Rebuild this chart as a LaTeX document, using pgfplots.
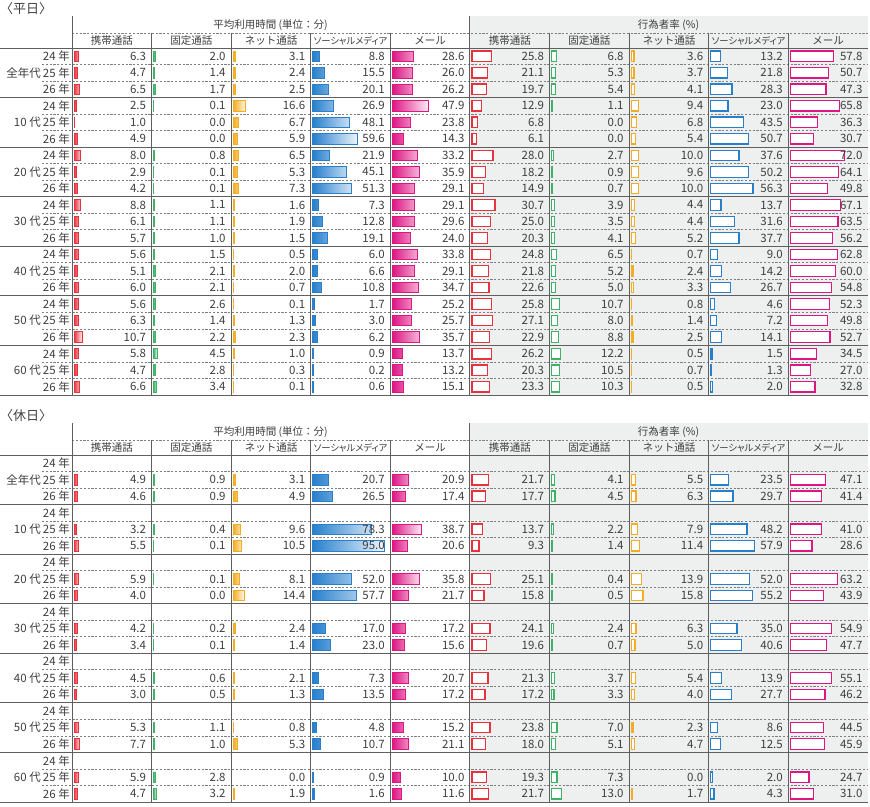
\documentclass[border=0pt]{standalone}
\usepackage{pgfplots}
\pgfplotsset{compat=1.18}
\usepackage{pgfplotstable}
\usepackage{fontspec}
\setmainfont{Noto Sans CJK JP}
\newfontfamily\jpp{Noto Sans CJK JP}[RawFeature=+palt]
\definecolor{c1}{RGB}{232,50,62}
\definecolor{c2}{RGB}{62,178,102}
\definecolor{c3}{RGB}{245,172,32}
\definecolor{c4}{RGB}{40,128,205}
\definecolor{c5}{RGB}{222,22,132}
\definecolor{txt}{RGB}{62,62,62}
\definecolor{band}{RGB}{238,239,239}
\definecolor{rule}{RGB}{95,95,95}
\newcommand\numf{\fontsize{11.5}{11.5}\selectfont}
\newcommand\hfont{\fontsize{10.5}{10.5}\selectfont}
\newcommand\smh{\fontsize{9.3}{9.3}\selectfont\jpp ソーシャルメディア}

\pgfplotstableread{
r c1 c2 c3 c4 c5 c6 c7 c8 c9 c10
0 6.3 2.0 3.1 8.8 28.6 25.8 6.8 3.6 13.2 57.8
1 4.7 1.4 2.4 15.5 26.0 21.1 5.3 3.7 21.8 50.7
2 6.5 1.7 2.5 20.1 26.2 19.7 5.4 4.1 28.3 47.3
3 2.5 0.1 16.6 26.9 47.9 12.9 1.1 9.4 23.0 65.8
4 1.0 0.0 6.7 48.1 23.8 6.8 0.0 6.8 43.5 36.3
5 4.9 0.0 5.9 59.6 14.3 6.1 0.0 5.4 50.7 30.7
6 8.0 0.8 6.5 21.9 33.2 28.0 2.7 10.0 37.6 72.0
7 2.9 0.1 5.3 45.1 35.9 18.2 0.9 9.6 50.2 64.1
8 4.2 0.1 7.3 51.3 29.1 14.9 0.7 10.0 56.3 49.8
9 8.8 1.1 1.6 7.3 29.1 30.7 3.9 4.4 13.7 67.1
10 6.1 1.1 1.9 12.8 29.6 25.0 3.5 4.4 31.6 63.5
11 5.7 1.0 1.5 19.1 24.0 20.3 4.1 5.2 37.7 56.2
12 5.6 1.5 0.5 6.0 33.8 24.8 6.5 0.7 9.0 62.8
13 5.1 2.1 2.0 6.6 29.1 21.8 5.2 2.4 14.2 60.0
14 6.0 2.1 0.7 10.8 34.7 22.6 5.0 3.3 26.7 54.8
15 5.6 2.6 0.1 1.7 25.2 25.8 10.7 0.8 4.6 52.3
16 6.3 1.4 1.3 3.0 25.7 27.1 8.0 1.4 7.2 49.8
17 10.7 2.2 2.3 6.2 35.7 22.9 8.8 2.5 14.1 52.7
18 5.8 4.5 1.0 0.9 13.7 26.2 12.2 0.5 1.5 34.5
19 4.7 2.8 0.3 0.2 13.2 20.3 10.5 0.7 1.3 27.0
20 6.6 3.4 0.1 0.6 15.1 23.3 10.3 0.5 2.0 32.8
}\wk

\pgfplotstableread{
r c1 c2 c3 c4 c5 c6 c7 c8 c9 c10
1 4.9 0.9 3.1 20.7 20.9 21.7 4.1 5.5 23.5 47.1
2 4.6 0.9 4.9 26.5 17.4 17.7 4.5 6.3 29.7 41.4
4 3.2 0.4 9.6 78.3 38.7 13.7 2.2 7.9 48.2 41.0
5 5.5 0.1 10.5 95.0 20.6 9.3 1.4 11.4 57.9 28.6
7 5.9 0.1 8.1 52.0 35.8 25.1 0.4 13.9 52.0 63.2
8 4.0 0.0 14.4 57.7 21.7 15.8 0.5 15.8 55.2 43.9
10 4.2 0.2 2.4 17.0 17.2 24.1 2.4 6.3 35.0 54.9
11 3.4 0.1 1.4 23.0 15.6 19.6 0.7 5.0 40.6 47.7
13 4.5 0.6 2.1 7.3 20.7 21.3 3.7 5.4 13.9 55.1
14 3.0 0.5 1.3 13.5 17.2 17.2 3.3 4.0 27.7 46.2
16 5.3 1.1 0.8 4.8 15.2 23.8 7.0 2.3 8.6 44.5
17 7.7 1.0 5.3 10.7 21.1 18.0 5.1 4.7 12.5 45.9
19 5.9 2.8 0.0 0.9 10.0 19.3 7.3 0.0 2.0 24.7
20 4.7 3.2 1.9 1.6 11.6 21.7 13.0 1.7 4.3 31.0
}\hd

\pgfplotsset{
  cell/.style={anchor=north west, width=79.6pt, height=346.92pt, scale only axis,
    xmin=-2.7, xmax=103.43, ymin=-0.5, ymax=20.5, y dir=reverse, hide axis, clip=false},
  avgbar/.style={xbar, bar width=10.5pt, bar shift=0pt, draw=#1, left color=#1, right color=#1!8,
    line width=0.8pt, x filter/.expression={x>0 ? x : nan}},
  ratebar/.style={xbar, bar width=10.5pt, bar shift=0pt, draw=#1, fill=white,
    line width=1.25pt, x filter/.expression={x>0 ? x : nan}},
  lab/.style={draw=none, mark=none, point meta=explicit symbolic, nodes near coords,
    every node near coord/.append style={anchor=east, font=\numf, text=txt, inner sep=0pt}},
}

\newcommand\drawpanel[3]{%
\begingroup
\def\oy{#1}%
\fill[band] (469,-16-\oy) rectangle (868,-395-\oy);
\node[anchor=west,inner sep=0pt,font=\fontsize{13}{13}\selectfont] at (0,-9-\oy) {#3};
\node[font=\hfont] at (270.5,-25-\oy) {平均利用時間 (単位：分)};
\node[font=\hfont] at (668.5,-25-\oy) {行為者率 (\%)};
\foreach \i/\name in {1/携帯通話,2/固定通話,3/ネット通話,4/\smh,5/メール,6/携帯通話,7/固定通話,8/ネット通話,9/\smh,10/メール}{%
  \node[font=\hfont] at (72+79.6*\i-39.8,-41-\oy) {\name};
}
\foreach \k in {0,...,6}{\foreach \j in {1,2}{%
  \draw[rule!80, line width=0.6pt, dash pattern=on 2.2pt off 1.6pt] (42,-48-49.56*\k-16.52*\j-\oy) -- (868,-48-49.56*\k-16.52*\j-\oy);}}
\draw[rule!80, line width=0.6pt, dash pattern=on 2.2pt off 1.6pt] (72,-33-\oy) -- (868,-33-\oy);
\draw[rule, line width=0.8pt] (72,-16-\oy) -- (72,-395-\oy);
\draw[rule, line width=0.8pt] (469,-16-\oy) -- (469,-395-\oy);
\foreach \i in {1,2,3,4,6,7,8,9}{\draw[rule, line width=0.8pt] (72+79.6*\i,-33-\oy) -- (72+79.6*\i,-395-\oy);}
\foreach \k in {0,...,7}{\draw[rule, line width=0.8pt] (0,-48-49.56*\k-\oy) -- (868,-48-49.56*\k-\oy);}
\foreach \g/\lab in {0/全年代,1/10 代,2/20 代,3/30 代,4/40 代,5/50 代,6/60 代}{%
  \node[anchor=east,inner sep=0pt,font=\numf] at (41,-48-49.56*\g-24.78-\oy) {\lab};
  \foreach \j/\yy in {0/24,1/25,2/26}{%
    \node[anchor=east,inner sep=0pt,font=\numf] at (70,-48-49.56*\g-16.52*\j-8.26-\oy) {\yy\ 年};}
}
\pgfmathsetmacro\yt{-48-\oy}%
\foreach \i in {1,...,10}{%
  \pgfmathtruncatemacro\ci{mod(\i-1,5)+1}%
  \pgfmathsetmacro\xl{72+79.6*(\i-1)}%
  \begin{axis}[cell, at={(\xl pt,\yt pt)}]
    \ifnum\i<6
      \addplot[avgbar=c\ci] table[x=c\i,y=r]{#2};
    \else
      \addplot[ratebar=c\ci] table[x=c\i,y=r]{#2};
    \fi
    \addplot[lab] table[x expr=96.2,y=r,meta=c\i]{#2};
  \end{axis}
}
\endgroup
}

\begin{document}
\begin{tikzpicture}[x=1pt,y=1pt,every node/.append style={text=txt}]
\useasboundingbox (0,0) rectangle (870,-806);
\drawpanel{0}{\wk}{〈平日〉}
\drawpanel{407}{\hd}{〈休日〉}
\end{tikzpicture}
\end{document}
